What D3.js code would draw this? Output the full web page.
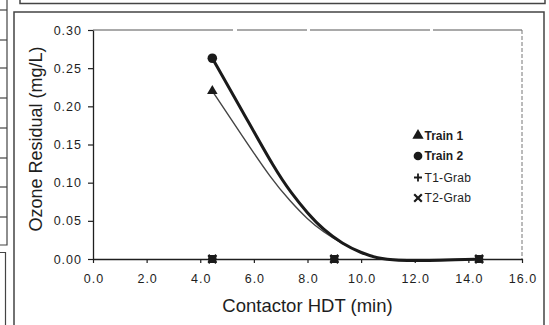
<!DOCTYPE html>
<html>
<head>
<meta charset="utf-8">
<script src="https://cdn.jsdelivr.net/npm/d3@7"></script>
<style>
  html, body { margin: 0; padding: 0; background: #fff; }
  svg { display: block; font-family: "Liberation Sans", Arial, sans-serif; }
</style>
</head>
<body>
<svg id="chart" width="549" height="325"></svg>
<script>
// ---- data ----
const hdt      = [4.45, 9.0, 14.4];          // contactor HDT (min)
const train1   = [0.220, 0, 0];
const train2   = [0.263, 0, 0];
const t1Grab   = [0, 0, 0];
const t2Grab   = [0, 0, 0];

// smoothed trend lines
const trend1X = [4.45, 5.55, 6.67, 7.35, 8.0, 8.6, 9.3, 10.0, 10.6, 11.3, 12.6, 13.5, 14.4];
const trend1Y = [0.220, 0.162, 0.104, 0.076, 0.052, 0.035, 0.020, 0.008, 0.001, -0.002, -0.002, -0.001, 0];
const trend2X = [4.45, 5.6, 6.79, 7.4, 8.0, 8.6, 9.3, 10.0, 10.6, 11.3, 12.6, 13.5, 14.4];
const trend2Y = [0.263, 0.192, 0.117, 0.086, 0.060, 0.038, 0.020, 0.008, 0.001, -0.002, -0.002, -0.001, 0];

const xTicks = [0, 2, 4, 6, 8, 10, 12, 14, 16];
const yTicks = [0, 0.05, 0.10, 0.15, 0.20, 0.25, 0.30];
const legendLabels = ["Train 1", "Train 2", "T1-Grab", "T2-Grab"];
const xTitle = "Contactor HDT (min)";
const yTitle = "Ozone Residual (mg/L)";

// ---- drawing ----
const svg = d3.select("#chart");
svg.append("rect").attr("width", 549).attr("height", 325).attr("fill", "#fff");

const ink = "#1e1e1e";
const x = d3.scaleLinear().domain([0, 16]).range([93, 522]);
const y = d3.scaleLinear().domain([0, 0.30]).range([259, 30]);

// page / scan borders
const frame = svg.append("g").attr("fill", "none").attr("stroke", "#444");
frame.append("path").attr("stroke-width", 1.5).attr("d", "M20,0 V3.5 H545 V0");
frame.append("path").attr("stroke-width", 1.5).attr("d", "M14,325 V12 H544 V325");
frame.append("path").attr("stroke-width", 1.2).attr("d", "M7,0 V245 H0");
[10, 40, 68, 98, 128, 158, 187, 217].forEach(v =>
  frame.append("line").attr("x1", 0).attr("x2", 7).attr("y1", v).attr("y2", v).attr("stroke-width", 1.2));
frame.append("path").attr("stroke-width", 1.2).attr("d", "M0,252.5 H5.5 V325");

// plot frame (top and right, faint)
svg.append("line").attr("x1", x(0)).attr("x2", x(16)).attr("y1", y(0.3)).attr("y2", y(0.3))
  .attr("stroke", "#555").attr("stroke-width", 1).attr("stroke-dasharray", "140,4,70,3,120,3,200");
svg.append("line").attr("x1", x(16)).attr("x2", x(16)).attr("y1", y(0.3)).attr("y2", y(0))
  .attr("stroke", "#777").attr("stroke-width", 1).attr("stroke-dasharray", "4,2");

// axes
const xAxis = d3.axisBottom(x).tickValues(xTicks).tickFormat(d3.format(".1f")).tickSize(4).tickSizeOuter(0);
const yAxis = d3.axisLeft(y).tickValues(yTicks).tickFormat(d3.format(".2f")).tickSize(5).tickSizeOuter(0);

const gx = svg.append("g").attr("transform", `translate(0,${y(0)})`).call(xAxis);
const gy = svg.append("g").attr("transform", `translate(${x(0)},0)`).call(yAxis);
[gx, gy].forEach(g => {
  g.select(".domain").attr("stroke", ink).attr("stroke-width", 1.3);
  g.selectAll(".tick line").attr("stroke", ink).attr("stroke-width", 1.2);
  g.selectAll(".tick text").attr("fill", ink)
    .style("font-size", "12.5px").style("letter-spacing", "1px")
    .style("font-family", "'Liberation Sans', Arial, sans-serif");
});
gx.selectAll(".tick text").attr("y", 15).attr("dy", "0.71em").attr("dx", "0.5");
gy.selectAll(".tick text").attr("x", -11);

// titles
svg.append("text").attr("x", (x(0) + x(16)) / 2).attr("y", 311.5)
  .attr("text-anchor", "middle").attr("fill", ink).style("font-size", "18.5px").text(xTitle);
svg.append("text").attr("transform", `translate(41.5,139) rotate(-90)`)
  .attr("text-anchor", "middle").attr("fill", ink).style("font-size", "18px").text(yTitle);

// trend curves
const line = d3.line().x(d => x(d[0])).y(d => y(d[1])).curve(d3.curveBasis);
svg.append("path").datum(d3.zip(trend1X, trend1Y)).attr("d", line)
  .attr("fill", "none").attr("stroke", "#444").attr("stroke-width", 1.4);
svg.append("path").datum(d3.zip(trend2X, trend2Y)).attr("d", line)
  .attr("fill", "none").attr("stroke", "#1a1a1a").attr("stroke-width", 3);

// marker shapes
const plusPath = s => `M${-s},0H${s}M0,${-s}V${s}`;
const xPath = s => `M${-s},${-s}L${s},${s}M${-s},${s}L${s},${-s}`;
const triGen = d3.symbol().type(d3.symbolTriangle).size(48);
const cirGen = d3.symbol().type(d3.symbolCircle).size(72);

// grab samples: plus and x overlap into a square blob
function drawStroke(vals, pathFn) {
  svg.append("g").selectAll("path").data(d3.zip(hdt, vals)).join("path")
    .attr("transform", d => `translate(${x(d[0])},${y(d[1])})`)
    .attr("d", pathFn(4)).attr("fill", "none")
    .attr("stroke", "#1a1a1a").attr("stroke-width", 2.5);
}
drawStroke(t1Grab, plusPath);
drawStroke(t2Grab, xPath);
svg.append("g").selectAll("rect").data(d3.zip(hdt, t1Grab)).join("rect")
  .attr("x", d => x(d[0]) - 4).attr("y", d => y(d[1]) - 4)
  .attr("width", 8).attr("height", 8).attr("fill", "#1a1a1a");

// train markers (zero values are hidden under the grab blobs)
function drawFilled(vals, gen) {
  svg.append("g").selectAll("path").data(d3.zip(hdt, vals).filter(d => d[1] > 0)).join("path")
    .attr("transform", d => `translate(${x(d[0])},${y(d[1])})`)
    .attr("d", gen).attr("fill", "#1a1a1a");
}
drawFilled(train1, triGen);
drawFilled(train2, cirGen);

// legend
const legendY = [135.5, 156, 177.5, 198];
const lg = svg.append("g");
legendLabels.forEach((lab, i) => {
  const t = `translate(418,${legendY[i]})`;
  if (i === 0) lg.append("path").attr("transform", t).attr("d", d3.symbol().type(d3.symbolTriangle).size(55)()).attr("fill", "#1a1a1a");
  if (i === 1) lg.append("path").attr("transform", t).attr("d", d3.symbol().type(d3.symbolCircle).size(60)()).attr("fill", "#1a1a1a");
  if (i === 2) lg.append("path").attr("transform", t).attr("d", plusPath(4)).attr("stroke", "#1a1a1a").attr("stroke-width", 1.8);
  if (i === 3) lg.append("path").attr("transform", t).attr("d", xPath(3.8)).attr("stroke", "#1a1a1a").attr("stroke-width", 2.2);
  lg.append("text").attr("x", 424.5).attr("y", legendY[i] + 4.2)
    .attr("fill", ink).style("font-size", "12px")
    .style("font-weight", i < 2 ? "bold" : "normal")
    .style("letter-spacing", i < 2 ? "0px" : "0.3px")
    .text(lab);
});
</script>
</body>
</html>
